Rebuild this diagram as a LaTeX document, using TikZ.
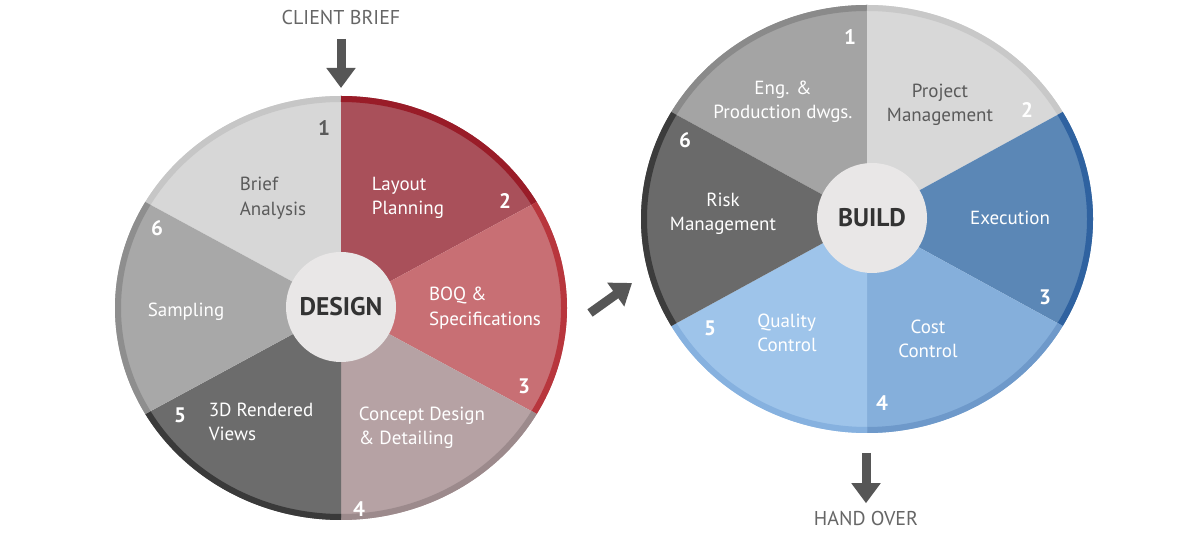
\documentclass[tikz,border=0pt]{standalone}
\usepackage{fontspec}
\setmainfont{PT Sans}
\usetikzlibrary{arrows.meta,calc}
% colours of the two wheels
\definecolor{dsgnA}{HTML}{D7D7D7}\definecolor{dsgnArim}{HTML}{C6C6C6}
\definecolor{dsgnB}{HTML}{A9505A}\definecolor{dsgnBrim}{HTML}{991C28}
\definecolor{dsgnC}{HTML}{C86F74}\definecolor{dsgnCrim}{HTML}{B8363D}
\definecolor{dsgnD}{HTML}{B6A2A4}\definecolor{dsgnDrim}{HTML}{9C8A8C}
\definecolor{dsgnE}{HTML}{6C6C6C}\definecolor{dsgnErim}{HTML}{3A3A3A}
\definecolor{dsgnF}{HTML}{A8A8A8}\definecolor{dsgnFrim}{HTML}{8E8E8E}
\definecolor{bldA}{HTML}{A4A4A4}\definecolor{bldArim}{HTML}{8A8A8A}
\definecolor{bldB}{HTML}{D8D8D8}\definecolor{bldBrim}{HTML}{C8C8C8}
\definecolor{bldC}{HTML}{5B87B6}\definecolor{bldCrim}{HTML}{2F62A0}
\definecolor{bldD}{HTML}{85AFDB}\definecolor{bldDrim}{HTML}{6E99CA}
\definecolor{bldE}{HTML}{9EC4EA}\definecolor{bldErim}{HTML}{86B1DF}
\definecolor{bldF}{HTML}{6A6A6A}\definecolor{bldFrim}{HTML}{3C3C3C}
\definecolor{hubfill}{HTML}{E9E7E7}
\definecolor{labelgray}{HTML}{5A5A5A}
\definecolor{arrowgray}{HTML}{565656}
\tikzset{%
  steplabel/.style = {font=\fontsize{19}{24.5}\selectfont, align=left,%
                      text=white, inner sep=0pt},%
  darklabel/.style = {steplabel, text=labelgray},%
  stepnum/.style   = {font=\fontsize{21}{24}\selectfont\bfseries,%
                      text=white, inner sep=0pt},%
  hub/.style       = {circle, fill=hubfill, minimum size=110pt, inner sep=0pt,%
                      font=\fontsize{25.5}{28}\selectfont\bfseries, text=black!80},%
  outside/.style   = {font=\fontsize{20}{22}\selectfont, text=black!60},%
  bigarrow/.style  = {draw=arrowgray, line width=9pt,%
                      -{Triangle[width=28pt,length=20pt]}}%
}
% one sector of a wheel: start angle, end angle, fill, rim
\newcommand{\wheelpart}[4]{%
  \fill[#3] (0,0) -- (#1:\rx pt and \ry pt)
    arc[start angle=#1, end angle=#2, x radius=\rx pt, y radius=\ry pt] -- cycle;
  \draw[#4, line width=6pt] (#1:\rxi pt and \ryi pt)
    arc[start angle=#1, end angle=#2, x radius=\rxi pt, y radius=\ryi pt];%
}
\begin{document}
\begin{tikzpicture}[x=1pt,y=1pt]
	\useasboundingbox[fill=white] (0,0) rectangle (1204,535);
	% design wheel
	\begin{scope}[shift={(341,227)}]
	\def\rx{226}\def\ry{212}\def\rxi{223}\def\ryi{209}
		\wheelpart{90}{150}{dsgnA}{dsgnArim}
		\wheelpart{30}{90}{dsgnB}{dsgnBrim}
		\wheelpart{-30}{30}{dsgnC}{dsgnCrim}
		\wheelpart{-90}{-30}{dsgnD}{dsgnDrim}
		\wheelpart{-150}{-90}{dsgnE}{dsgnErim}
		\wheelpart{150}{210}{dsgnF}{dsgnFrim}
		\node (design) at (0,1) [hub] {DESIGN};
	\end{scope}
	\node (brief)    at (273,337) [darklabel] {Brief\\Analysis};
	\node (layout)   at (408,337) [steplabel] {Layout\\Planning};
	\node (boq)      at (485,227) [steplabel] {BOQ \&\\Specifications};
	\node (concept)  at (422,107) [steplabel] {Concept Design\\\& Detailing};
	\node (rendered) at (261,113) [steplabel] {3D Rendered\\Views};
	\node (sampling) at (186,223) [steplabel] {Sampling};
	\node (dnum1) at (324,407) [stepnum, text=labelgray] {1};
	\node (dnum2) at (505,334) [stepnum] {2};
	\node (dnum3) at (524,149) [stepnum] {3};
	\node (dnum4) at (359,26)  [stepnum] {4};
	\node (dnum5) at (180,120) [stepnum] {5};
	\node (dnum6) at (157,307) [stepnum] {6};
	% build wheel
	\begin{scope}[shift={(867,316)}]
	\def\rx{226}\def\ry{214}\def\rxi{223}\def\ryi{211}
		\wheelpart{90}{150}{bldA}{bldArim}
		\wheelpart{30}{90}{bldB}{bldBrim}
		\wheelpart{-30}{30}{bldC}{bldCrim}
		\wheelpart{-90}{-30}{bldD}{bldDrim}
		\wheelpart{-150}{-90}{bldE}{bldErim}
		\wheelpart{150}{210}{bldF}{bldFrim}
		\node (build) at (5,1) [hub] {BUILD};
	\end{scope}
	\node (engdwg)   at (783,433) [steplabel, align=center] {Eng. \&\\Production dwgs.};
	\node (projmgmt) at (940,430) [darklabel, align=center] {Project\\Management};
	\node (exec)     at (1010,317) [steplabel] {Execution};
	\node (cost)     at (928,196) [steplabel, align=center] {Cost\\Control};
	\node (quality)  at (787,202) [steplabel] {Quality\\Control};
	\node (risk)     at (723,321) [steplabel, align=center] {Risk\\Management};
	\node (bnum1) at (850,498)  [stepnum] {1};
	\node (bnum2) at (1027,425) [stepnum] {2};
	\node (bnum3) at (1045,238) [stepnum] {3};
	\node (bnum4) at (882,132)  [stepnum] {4};
	\node (bnum5) at (710,207)  [stepnum] {5};
	\node (bnum6) at (685,395)  [stepnum] {6};
	% arrows in and out
	\node (client) at (341,517) [outside] {CLIENT BRIEF};
	\coordinate (clienttip) at (341,447);
	\draw[bigarrow] ([yshift=-10pt]client.south) -- (clienttip);
	\coordinate (handoff) at (590,222);
	\coordinate (handon)  at (632,252);
	\draw[bigarrow] (handoff) -- (handon);
	\node (handover) at (866,16) [outside] {HAND OVER};
	\coordinate (handtop) at (866,82);
	\draw[bigarrow] (handtop) -- ([yshift=5pt]handover.north);
\end{tikzpicture}
\end{document}
